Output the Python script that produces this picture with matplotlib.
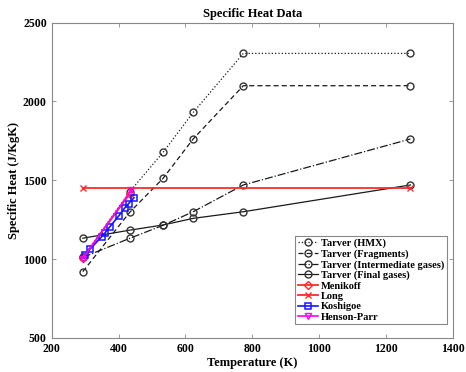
import matplotlib.pyplot as plt

plt.rcParams["font.family"] = ["Liberation Serif", "DejaVu Serif"]
plt.rcParams["font.weight"] = "bold"

# Tarver model temperatures (K)
TARVER_T = [293, 433, 533, 623, 773, 1273]
TARVER_HMX = [1010, 1427, 1677, 1930, 2305, 2305]
TARVER_FRAGMENTS = [920, 1296, 1512, 1762, 2100, 2100]
TARVER_INTERMEDIATE = [1010, 1131, 1214, 1300, 1470, 1762]
TARVER_FINAL = [1132, 1183, 1216, 1258, 1300, 1470]

MENIKOFF_T = [293, 433]
MENIKOFF_CP = [1008, 1412]

LONG_T = [293, 1273]
LONG_CP = [1452, 1452]

KOSHIGOE_T = [300, 314, 349, 359, 374, 401, 419, 430, 446]
KOSHIGOE_CP = [1025, 1061, 1141, 1165, 1205, 1275, 1326, 1352, 1389]

HENSON_PARR_T = [293, 438]
HENSON_PARR_CP = [1003, 1436]


def main():
    fig = plt.figure(figsize=(4.66, 3.72), dpi=100)
    ax = fig.add_axes([0.111, 0.092, 0.861, 0.847])

    tarver = [
        ("Tarver (HMX)", TARVER_HMX, ":"),
        ("Tarver (Fragments)", TARVER_FRAGMENTS, (0, (4, 2.5))),
        ("Tarver (Intermediate gases)", TARVER_INTERMEDIATE, "-."),
        ("Tarver (Final gases)", TARVER_FINAL, "-"),
    ]
    for label, values, style in tarver:
        ax.plot(TARVER_T, values, linestyle=style, color="#1a1a1a", linewidth=0.9,
                marker="o", markersize=5, markerfacecolor="none",
                markeredgecolor="#333333", markeredgewidth=1.0, label=label)

    ax.plot(MENIKOFF_T, MENIKOFF_CP, "-", color="#ff2a2a", linewidth=1.3, marker="D",
            markersize=4, markerfacecolor="none", markeredgewidth=1.0, label="Menikoff")
    ax.plot(LONG_T, LONG_CP, "-", color="#ff2a2a", linewidth=1.3, marker="x",
            markersize=5, markeredgewidth=1.0, label="Long")
    ax.plot(KOSHIGOE_T, KOSHIGOE_CP, "-", color="#1515ff", linewidth=1.2, marker="s",
            markersize=4.5, markerfacecolor="none", markeredgewidth=1.1, label="Koshigoe")
    ax.plot(HENSON_PARR_T, HENSON_PARR_CP, "-", color="#ff00ff", linewidth=1.2, marker="v",
            markersize=5, markerfacecolor="none", markeredgewidth=1.0, label="Henson-Parr")

    ax.set_xlim(200, 1400)
    ax.set_ylim(500, 2500)
    ax.set_xticks(range(200, 1401, 200))
    ax.set_yticks(range(500, 2501, 500))
    ax.tick_params(direction="in", top=True, right=True, labelsize=8.5,
                   length=3, width=0.6, color="#888888")
    for spine in ax.spines.values():
        spine.set_color("#888888")
        spine.set_linewidth(0.8)

    ax.set_title("Specific Heat Data", fontsize=9, fontweight="bold", pad=4)
    ax.set_xlabel("Temperature (K)", fontsize=9, fontweight="bold", labelpad=2)
    ax.set_ylabel("Specific Heat (J/KgK)", fontsize=9, fontweight="bold", labelpad=2)

    leg = ax.legend(loc="lower right", bbox_to_anchor=(0.985, 0.043), fontsize=7.5,
                    fancybox=False, framealpha=1, edgecolor="#888888",
                    borderpad=0.25, labelspacing=0.1, handlelength=1.9,
                    handletextpad=0.3, borderaxespad=0)
    leg.get_frame().set_linewidth(0.8)

    fig.savefig("out.png", dpi=100)


if __name__ == "__main__":
    main()
